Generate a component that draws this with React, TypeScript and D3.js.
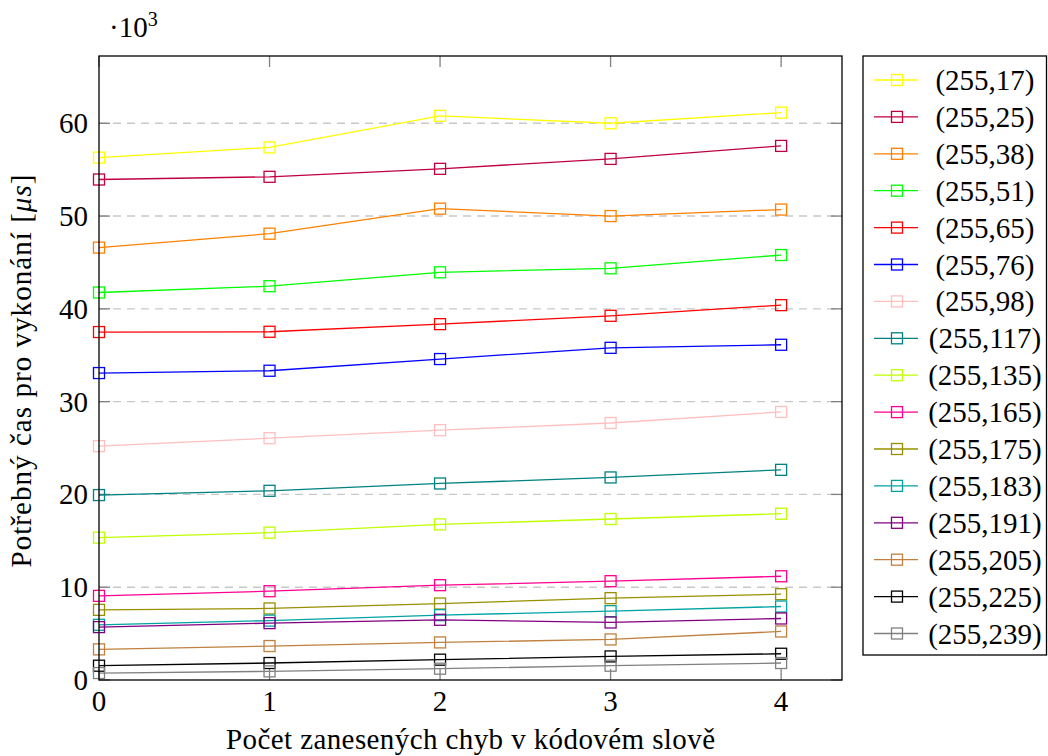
import React from 'react';
import * as d3 from 'd3';

const W = 1048;
const H = 756;

// počet chyb (osa x)
const errors = [0, 1, 2, 3, 4];

// naměřené časy v tisících µs, jedna řada na kód
const s17 = [56.3, 57.4, 60.8, 60.0, 61.15];
const s25 = [53.94, 54.23, 55.09, 56.16, 57.56];
const s38 = [46.6, 48.1, 50.8, 50.0, 50.7];
const s51 = [41.76, 42.44, 43.94, 44.37, 45.8];
const s65 = [37.5, 37.53, 38.35, 39.25, 40.4];
const s76 = [33.08, 33.33, 34.59, 35.8, 36.13];
const s98 = [25.2, 26.06, 26.92, 27.7, 28.89];
const s117 = [19.93, 20.39, 21.18, 21.83, 22.65];
const s135 = [15.34, 15.88, 16.77, 17.35, 17.92];
const s165 = [9.07, 9.57, 10.22, 10.65, 11.18];
const s175 = [7.56, 7.71, 8.24, 8.82, 9.25];
const s183 = [5.95, 6.4, 6.99, 7.42, 7.92];
const s191 = [5.7, 6.13, 6.49, 6.2, 6.63];
const s205 = [3.3, 3.66, 4.05, 4.37, 5.23];
const s225 = [1.54, 1.83, 2.19, 2.54, 2.83];
const s239 = [0.75, 0.93, 1.22, 1.54, 1.83];

const labels = [
  '(255,17)', '(255,25)', '(255,38)', '(255,51)', '(255,65)', '(255,76)',
  '(255,98)', '(255,117)', '(255,135)', '(255,165)', '(255,175)', '(255,183)',
  '(255,191)', '(255,205)', '(255,225)', '(255,239)',
];
const values = [s17, s25, s38, s51, s65, s76, s98, s117, s135, s165, s175, s183, s191, s205, s225, s239];
const colors = [
  '#ffff00', '#bf0040', '#ff8000', '#00ff00', '#ff0000', '#0000ff',
  '#ffbfbf', '#008080', '#bfff00', '#ff0090', '#998f00', '#00a3a3',
  '#800080', '#bf8040', '#000000', '#808080',
];

const yTicks = [0, 10, 20, 30, 40, 50, 60];

const left = 99;
const right = 842;
const top = 56;
const bottom = 680;
const font = 'Liberation Serif';
const fs = 29;

function T(props: any) {
  const { children, style, ...rest } = props;
  return (
    <text {...rest} style={{ fontFamily: font, fontSize: fs, ...(style || {}) }}>
      {children}
    </text>
  );
}

export default function App() {
  const x = d3.scaleLinear().domain([0, 4.357]).range([left, right]);
  const y = d3.scaleLinear().domain([0, 67.25]).range([bottom, top]);

  const line = d3
    .line<number>()
    .x((d, i) => x(errors[i]))
    .y((d) => y(d));

  const ms = 11; // velikost značky
  const tick = 11;

  const lgX = 863;
  const lgTop = 56;
  const rowH = 36.9;
  const lgBottom = 655;

  return (
    <svg width={W} height={H} style={{ position: 'absolute', left: 0, top: 0 }}>
      <rect width={W} height={H} fill="#fff" />

      {/* mřížka */}
      {yTicks.filter((t) => t > 0).map((t) => (
        <line key={'g' + t} x1={left} x2={right} y1={y(t)} y2={y(t)}
          stroke="#c8c8c8" strokeWidth={1.4} strokeDasharray="8,6" />
      ))}

      {/* značky os */}
      {yTicks.map((t) => (
        <g key={'yt' + t} stroke="#808080" strokeWidth={1.3}>
          <line x1={left} x2={left + tick} y1={y(t)} y2={y(t)} />
          <line x1={right - tick} x2={right} y1={y(t)} y2={y(t)} />
        </g>
      ))}
      {errors.map((t) => (
        <g key={'xt' + t} stroke="#808080" strokeWidth={1.3}>
          <line x1={x(t)} x2={x(t)} y1={bottom} y2={bottom - tick} />
          <line x1={x(t)} x2={x(t)} y1={top} y2={top + tick} />
        </g>
      ))}

      {/* řady */}
      {values.map((vals, si) => (
        <g key={labels[si]}>
          <path d={line(vals) || ''} fill="none" stroke={colors[si]} strokeWidth={1.3} />
          {vals.map((v, i) => (
            <rect key={i} x={x(errors[i]) - ms / 2} y={y(v) - ms / 2} width={ms} height={ms}
              fill="none" stroke={colors[si]} strokeWidth={1.3} />
          ))}
        </g>
      ))}

      {/* rámeček */}
      <rect x={left} y={top} width={right - left} height={bottom - top} fill="none" stroke="#000" strokeWidth={1.3} />

      {/* popisky os */}
      {yTicks.map((t) => (
        <T key={'yl' + t} x={left - 11} y={y(t) + 10} textAnchor="end">
          {String(t)}
        </T>
      ))}
      {errors.map((t) => (
        <T key={'xl' + t} x={x(t)} y={711} textAnchor="middle">
          {String(t)}
        </T>
      ))}
      <T x={109} y={37}>
        ·10<tspan style={{ fontSize: 20 }} dy={-11}>3</tspan>
      </T>

      <T x={(left + right) / 2} y={749} textAnchor="middle" textLength={489} lengthAdjust="spacing">
        Počet zanesených chyb v kódovém slově
      </T>
      <T transform={`translate(31,${(top + bottom) / 2 + 3}) rotate(-90)`} textAnchor="middle"
        textLength={393} lengthAdjust="spacing">
        Potřebný čas pro vykonání [<tspan style={{ fontStyle: 'italic' }}>μs</tspan>]
      </T>

      {/* legenda */}
      <rect x={lgX} y={lgTop} width={W - 1.5 - lgX} height={lgBottom - lgTop} fill="#fff" stroke="#000" strokeWidth={1.3} />
      {labels.map((lab, i) => {
        const cy = 80 + i * rowH;
        return (
          <g key={'lg' + lab}>
            <line x1={874} x2={918} y1={cy} y2={cy} stroke={colors[i]} strokeWidth={1.3} />
            <rect x={897 - ms / 2} y={cy - ms / 2} width={ms} height={ms} fill="none" stroke={colors[i]} strokeWidth={1.3} />
            <T x={985} y={cy + 10} textAnchor="middle">
              {lab}
            </T>
          </g>
        );
      })}
    </svg>
  );
}
